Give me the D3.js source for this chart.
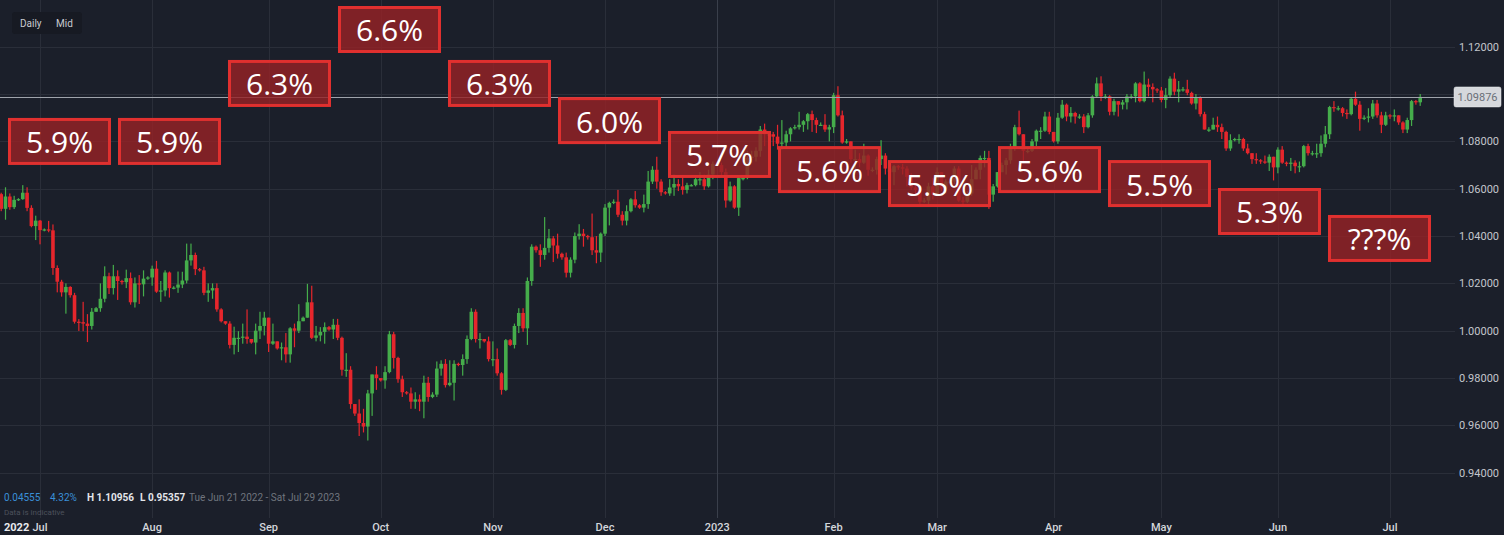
<!DOCTYPE html>
<html><head><meta charset="utf-8">
<script src="https://cdn.jsdelivr.net/npm/d3@7"></script>
<style>html,body{margin:0;padding:0;background:#1b1f2a;overflow:hidden}svg{display:block}</style>
</head><body><svg id="c" width="1504" height="535"></svg>
<script>
// ---- DATA (EUR/USD daily, Sun–Fri sessions from Tue Jun 21 2022) ----
const firstOpen = 1.0577;
const close = [
 1.0515,1.0567,1.0522,1.0553,
 1.0556,1.0583,1.0519,1.0442,1.0465,1.0425,
 1.0428,1.0424,1.0265,1.0207,1.0162,1.0185,
 1.0150,1.0038,1.0036,1.0030,1.0020,1.0080,
 1.0095,1.0135,1.0230,1.0180,1.0230,1.0210,
 1.0205,1.0222,1.0120,1.0200,1.0196,1.0220,
 1.0225,1.0262,1.0165,1.0170,1.0246,1.0180,
 1.0182,1.0195,1.0212,1.0297,1.0320,1.0260,
 1.0255,1.0160,1.0170,1.0180,1.0090,1.0040,
 1.0030,0.9940,0.9970,0.9970,0.9975,0.9965,
 0.9950,1.0000,1.0020,1.0055,0.9945,0.9955,
 0.9925,0.9930,0.9900,1.0010,1.0000,1.0040,
 1.0055,1.0120,0.9970,0.9980,0.9995,1.0015,
 1.0005,1.0025,0.9970,0.9835,0.9835,0.9690,
 0.9650,0.9610,0.9595,0.9735,0.9815,0.9800,
 0.9790,0.9825,0.9985,0.9885,0.9795,0.9740,
 0.9735,0.9700,0.9710,0.9700,0.9780,0.9720,
 0.9730,0.9840,0.9860,0.9770,0.9780,0.9860,
 0.9855,0.9880,0.9965,1.0080,0.9965,0.9965,
 0.9955,0.9880,0.9880,0.9820,0.9750,0.9960,
 0.9940,1.0020,1.0075,1.0010,1.0210,1.0355,
 1.0340,1.0320,1.0350,1.0390,1.0360,1.0325,
 1.0310,1.0245,1.0300,1.0400,1.0410,1.0400,
 1.0395,1.0340,1.0330,1.0410,1.0520,1.0540,
 1.0545,1.0490,1.0465,1.0505,1.0555,1.0530,
 1.0520,1.0535,1.0630,1.0680,1.0630,1.0585,
 1.0580,1.0605,1.0620,1.0610,1.0595,1.0615,
 1.0615,1.0640,1.0640,1.0610,1.0660,1.0705,
 1.0700,1.0670,1.0550,1.0610,1.0520,1.0645,
 1.0645,1.0730,1.0735,1.0760,1.0850,1.0830,
 1.0830,1.0820,1.0790,1.0795,1.0830,1.0855,
 1.0860,1.0870,1.0885,1.0915,1.0890,1.0870,
 1.0870,1.0850,1.0860,1.0995,1.0910,1.0795,
 1.0800,1.0725,1.0725,1.0710,1.0740,1.0680,
 1.0680,1.0725,1.0740,1.0685,1.0670,1.0695,
 1.0690,1.0685,1.0650,1.0605,1.0595,1.0545,
 1.0550,1.0610,1.0575,1.0670,1.0600,1.0630,
 1.0630,1.0685,1.0550,1.0545,1.0580,1.0640,
 1.0680,1.0730,1.0730,1.0575,1.0610,1.0670,
 1.0700,1.0720,1.0770,1.0860,1.0830,1.0760,
 1.0760,1.0800,1.0845,1.0845,1.0905,1.0840,
 1.0800,1.0900,1.0955,1.0905,1.0920,1.0905,
 1.0905,1.0860,1.0910,1.0990,1.1045,1.0990,
 1.0990,1.0925,1.0970,1.0955,1.0965,1.0990,
 1.0990,1.1045,1.0970,1.1040,1.1030,1.1020,
 1.1015,1.0975,1.0995,1.1065,1.1010,1.1020,
 1.1020,1.1005,1.0960,1.0985,1.0915,1.0850,
 1.0850,1.0870,1.0860,1.0840,1.0770,1.0805,
 1.0810,1.0810,1.0770,1.0750,1.0725,1.0720,
 1.0715,1.0710,1.0735,1.0690,1.0765,1.0710,
 1.0705,1.0710,1.0695,1.0695,1.0780,1.0750,
 1.0750,1.0750,1.0790,1.0830,1.0945,1.0940,
 1.0940,1.0920,1.0915,1.0980,1.0955,1.0895,
 1.0900,1.0905,1.0960,1.0910,1.0870,1.0910,
 1.0905,1.0910,1.0880,1.0850,1.0890,1.0970,
 1.0965,1.0988
];
const high = [
 1.0583,1.0606,1.0580,1.0570,
 1.0560,1.0615,1.0606,1.0530,1.0486,1.0468,
 1.0432,1.0464,1.0449,1.0276,1.0215,1.0200,
 1.0188,1.0160,1.0049,1.0122,1.0070,1.0096,
 1.0100,1.0200,1.0272,1.0245,1.0278,1.0255,
 1.0215,1.0258,1.0246,1.0225,1.0235,1.0255,
 1.0230,1.0275,1.0295,1.0210,1.0255,1.0250,
 1.0188,1.0250,1.0249,1.0368,1.0368,1.0330,
 1.0265,1.0270,1.0200,1.0200,1.0200,1.0095,
 1.0040,1.0040,1.0017,0.9998,1.0030,1.0090,
 0.9965,1.0030,1.0080,1.0080,1.0055,1.0030,
 0.9955,0.9950,0.9990,1.0015,1.0030,1.0112,
 1.0060,1.0198,1.0190,1.0020,1.0015,1.0035,
 1.0020,1.0050,1.0050,0.9975,0.9905,0.9850,
 0.9690,0.9710,0.9670,0.9750,0.9815,0.9850,
 0.9800,0.9850,0.9999,0.9995,0.9890,0.9810,
 0.9745,0.9760,0.9740,0.9730,0.9810,0.9805,
 0.9740,0.9870,0.9875,0.9880,0.9875,0.9875,
 0.9865,0.9900,0.9980,1.0095,1.0090,0.9990,
 0.9965,0.9975,0.9955,0.9925,0.9825,0.9965,
 0.9965,1.0030,1.0095,1.0095,1.0225,1.0365,
 1.0360,1.0365,1.0480,1.0430,1.0400,1.0410,
 1.0330,1.0330,1.0310,1.0415,1.0450,1.0430,
 1.0405,1.0495,1.0400,1.0415,1.0535,1.0545,
 1.0555,1.0595,1.0505,1.0530,1.0560,1.0590,
 1.0535,1.0575,1.0675,1.0695,1.0735,1.0640,
 1.0590,1.0640,1.0660,1.0640,1.0650,1.0625,
 1.0620,1.0645,1.0670,1.0660,1.0680,1.0715,
 1.0710,1.0710,1.0685,1.0630,1.0615,1.0655,
 1.0650,1.0760,1.0760,1.0775,1.0865,1.0875,
 1.0840,1.0840,1.0870,1.0890,1.0845,1.0860,
 1.0870,1.0925,1.0890,1.0920,1.0930,1.0900,
 1.0880,1.0915,1.0870,1.1005,1.1033,1.0930,
 1.0810,1.0800,1.0765,1.0750,1.0790,1.0745,
 1.0690,1.0735,1.0805,1.0750,1.0715,1.0700,
 1.0700,1.0705,1.0695,1.0665,1.0625,1.0600,
 1.0560,1.0625,1.0645,1.0690,1.0670,1.0640,
 1.0640,1.0695,1.0695,1.0565,1.0590,1.0700,
 1.0690,1.0740,1.0760,1.0760,1.0620,1.0670,
 1.0710,1.0730,1.0790,1.0870,1.0930,1.0830,
 1.0770,1.0810,1.0850,1.0860,1.0925,1.0925,
 1.0840,1.0920,1.0975,1.0960,1.0945,1.0925,
 1.0915,1.0915,1.0920,1.0995,1.1070,1.1075,
 1.1000,1.0995,1.0980,1.0970,1.0975,1.1000,
 1.1000,1.1050,1.1050,1.1095,1.1065,1.1045,
 1.1025,1.1030,1.1025,1.1075,1.1090,1.1055,
 1.1030,1.1060,1.1010,1.1000,1.0990,1.0925,
 1.0860,1.0900,1.0905,1.0875,1.0845,1.0830,
 1.0815,1.0830,1.0815,1.0790,1.0750,1.0750,
 1.0725,1.0740,1.0745,1.0735,1.0775,1.0780,
 1.0715,1.0730,1.0720,1.0715,1.0785,1.0790,
 1.0760,1.0790,1.0825,1.0865,1.0950,1.0970,
 1.0950,1.0945,1.0935,1.0985,1.1010,1.0970,
 1.0910,1.0940,1.0975,1.0975,1.0925,1.0925,
 1.0915,1.0935,1.0905,1.0885,1.0900,1.0975,
 1.0975,1.1000
];
const low = [
 1.0505,1.0469,1.0511,1.0514,
 1.0548,1.0553,1.0505,1.0437,1.0383,1.0365,
 1.0420,1.0416,1.0236,1.0162,1.0144,1.0072,
 1.0140,1.0030,0.9999,0.9998,0.9952,1.0005,
 1.0080,1.0080,1.0120,1.0155,1.0153,1.0130,
 1.0195,1.0180,1.0110,1.0098,1.0113,1.0145,
 1.0215,1.0190,1.0160,1.0122,1.0145,1.0140,
 1.0175,1.0160,1.0180,1.0200,1.0275,1.0235,
 1.0250,1.0150,1.0122,1.0135,1.0080,1.0035,
 1.0025,0.9925,0.9900,0.9910,0.9945,0.9945,
 0.9945,0.9900,0.9965,0.9980,0.9910,0.9940,
 0.9920,0.9875,0.9865,0.9865,0.9930,0.9990,
 1.0040,1.0060,0.9965,0.9955,0.9955,0.9945,
 1.0000,0.9965,0.9960,0.9810,0.9805,0.9670,
 0.9640,0.9555,0.9570,0.9536,0.9640,0.9750,
 0.9785,0.9755,0.9820,0.9840,0.9780,0.9720,
 0.9730,0.9670,0.9670,0.9660,0.9630,0.9700,
 0.9715,0.9720,0.9810,0.9760,0.9765,0.9705,
 0.9850,0.9810,0.9860,0.9960,0.9950,0.9925,
 0.9950,0.9870,0.9850,0.9810,0.9730,0.9745,
 0.9935,0.9925,0.9990,0.9995,0.9940,1.0190,
 1.0330,1.0270,1.0300,1.0330,1.0290,1.0305,
 1.0300,1.0225,1.0225,1.0285,1.0385,1.0355,
 1.0385,1.0320,1.0285,1.0290,1.0400,1.0445,
 1.0535,1.0480,1.0445,1.0445,1.0500,1.0520,
 1.0515,1.0500,1.0515,1.0620,1.0600,1.0570,
 1.0575,1.0570,1.0570,1.0590,1.0575,1.0580,
 1.0610,1.0610,1.0615,1.0595,1.0605,1.0640,
 1.0695,1.0650,1.0520,1.0545,1.0515,1.0485,
 1.0635,1.0640,1.0710,1.0715,1.0735,1.0780,
 1.0820,1.0780,1.0765,1.0765,1.0770,1.0800,
 1.0850,1.0850,1.0840,1.0850,1.0840,1.0835,
 1.0865,1.0840,1.0800,1.0835,1.0905,1.0790,
 1.0790,1.0710,1.0670,1.0690,1.0705,1.0655,
 1.0670,1.0660,1.0700,1.0660,1.0655,1.0615,
 1.0680,1.0660,1.0610,1.0595,1.0575,1.0535,
 1.0540,1.0535,1.0555,1.0575,1.0590,1.0580,
 1.0620,1.0620,1.0545,1.0525,1.0540,1.0570,
 1.0640,1.0640,1.0690,1.0515,1.0545,1.0605,
 1.0670,1.0660,1.0705,1.0760,1.0825,1.0715,
 1.0750,1.0755,1.0780,1.0810,1.0840,1.0830,
 1.0795,1.0790,1.0895,1.0885,1.0880,1.0875,
 1.0895,1.0835,1.0855,1.0900,1.0985,1.0970,
 1.0980,1.0910,1.0910,1.0905,1.0935,1.0935,
 1.0980,1.0965,1.0965,1.0965,1.0990,1.0965,
 1.1005,1.0965,1.0940,1.0985,1.0995,1.0965,
 1.1010,1.0995,1.0955,1.0935,1.0905,1.0850,
 1.0840,1.0850,1.0840,1.0810,1.0760,1.0760,
 1.0800,1.0790,1.0760,1.0745,1.0705,1.0705,
 1.0705,1.0705,1.0675,1.0635,1.0665,1.0705,
 1.0695,1.0675,1.0665,1.0670,1.0690,1.0740,
 1.0740,1.0730,1.0735,1.0775,1.0810,1.0925,
 1.0930,1.0905,1.0895,1.0910,1.0950,1.0845,
 1.0890,1.0880,1.0895,1.0900,1.0835,1.0865,
 1.0895,1.0885,1.0870,1.0835,1.0835,1.0865,
 1.0955,1.0950
];
const priceTicks = [0.94,0.96,0.98,1.00,1.02,1.04,1.06,1.08,1.10,1.12];
const monthLabels = ["Jul","Aug","Sep","Oct","Nov","Dec","2023","Feb","Mar","Apr","May","Jun","Jul"];
const lastPrice = 1.09876;
const boxLabels = ["5.9%","5.9%","6.3%","6.6%","6.3%","6.0%","5.7%","5.6%","5.5%","5.6%","5.5%","5.3%","???%"];
const boxLevels = [1.0899,1.0899,1.1144,1.1372,1.1144,1.0987,1.0844,1.0780,1.0721,1.0780,1.0721,1.0603,1.0489];
const statsBlue = ["0.04555","4.32%"];
const statsHL = ["H 1.10956","L 0.95357"];
const rangeText = "Tue Jun 21 2022 - Sat Jul 29 2023";

// ---- calendar of Sun–Fri sessions ----
const dates = [];
for (let d = new Date(2022,5,21); dates.length < close.length; d = new Date(d.getFullYear(), d.getMonth(), d.getDate()+1)) {
  if (d.getDay() !== 6) dates.push(d);
}

const W = 1504, H = 535;
const svg = d3.select("#c");
const bg = "#1b1f2a", grid = "#2a2e39";
svg.append("rect").attr("width",W).attr("height",H).attr("fill",bg);

const plotRight = 1455;
const x = d3.scaleLinear().domain([0, 337]).range([1.2, 1454.7]);
const y = d3.scaleLinear().domain([0.94, 1.12]).range([472.7, 46.7]);

// horizontal grid
svg.append("g").selectAll("line").data(priceTicks).join("line")
  .attr("x1",0).attr("x2",plotRight)
  .attr("y1",d=>Math.round(y(d))+0.5).attr("y2",d=>Math.round(y(d))+0.5)
  .attr("stroke",grid).attr("stroke-width",1);

// month starts
const monthStarts = [];
dates.forEach((d,i)=>{ if(i>0 && d.getMonth()!==dates[i-1].getMonth()) monthStarts.push(i); });
svg.append("g").selectAll("line").data(monthStarts).join("line")
  .attr("x1",d=>Math.round(x(d))+0.5).attr("x2",d=>Math.round(x(d))+0.5)
  .attr("y1",0).attr("y2",518)
  .attr("stroke",(d,i)=>monthLabels[i]==="2023" ? "#3a3f4b" : grid).attr("stroke-width",1);

// candles
const green = "#45ad4b", red = "#e6262c";
const cd = close.map((c,i)=>{
  const o = i===0 ? firstOpen : close[i-1];
  return {i, o, c, h: Math.max(high[i],o,c), l: Math.min(low[i],o,c)};
});
const cg = svg.append("g");
cg.selectAll("rect.w").data(cd).join("rect").attr("class","w")
  .attr("x",d=>x(d.i)-0.6).attr("width",1.2)
  .attr("y",d=>y(d.h)).attr("height",d=>Math.max(1,y(d.l)-y(d.h)))
  .attr("fill",d=>d.c>=d.o?green:red);
cg.selectAll("rect.b").data(cd).join("rect").attr("class","b")
  .attr("x",d=>x(d.i)-1.8).attr("width",3.6)
  .attr("y",d=>y(Math.max(d.o,d.c))).attr("height",d=>Math.max(1.2,Math.abs(y(d.o)-y(d.c))))
  .attr("fill",d=>d.c>=d.o?green:red);

// last price line
svg.append("line").attr("x1",0).attr("x2",1454)
  .attr("y1",Math.round(y(lastPrice))+0.5).attr("y2",Math.round(y(lastPrice))+0.5)
  .attr("stroke","#9fa3ab").attr("stroke-width",1);

// y-axis labels
svg.append("g").selectAll("text").data(priceTicks).join("text")
  .attr("x",1459).attr("y",d=>y(d)).attr("dy","0.35em")
  .attr("fill","#c3c6cc").attr("font-family","Roboto, sans-serif").attr("font-size",11)
  .text(d=>d3.format(".5f")(d));
const ly = y(lastPrice);
svg.append("rect").attr("x",1454).attr("y",ly-10).attr("width",47).attr("height",20).attr("rx",2)
  .attr("fill","#d6d8dc").attr("stroke","#eceef0").attr("stroke-width",0.5);
svg.append("text").attr("x",1477.5).attr("y",ly).attr("dy","0.35em").attr("text-anchor","middle")
  .attr("fill","#6a6f78").attr("font-family","Roboto, sans-serif").attr("font-size",11).text(d3.format(".5f")(lastPrice));

// annotation boxes
const bx = d3.scaleBand().domain(d3.range(boxLabels.length)).range([8,1431]).paddingInner(7/110).paddingOuter(0);
const ag = svg.append("g");
const boxes = ag.selectAll("g").data(boxLabels).join("g")
  .attr("transform",(d,i)=>`translate(${bx(i)},${y(boxLevels[i])})`);
boxes.append("rect").attr("x",1.5).attr("y",1.5).attr("width",bx.bandwidth()-3).attr("height",44)
  .attr("fill","rgba(150,34,38,0.82)").attr("stroke","#e0302f").attr("stroke-width",3);
boxes.append("text").attr("x",bx.bandwidth()/2).attr("y",35.5).attr("text-anchor","middle")
  .attr("fill","#ffffff").attr("font-family","'Open Sans', sans-serif").attr("font-size",30)
  .text(d=>d);

// top-left controls
svg.append("rect").attr("x",12).attr("y",12).attr("width",70).attr("height",22).attr("rx",3).attr("fill","#171a23");
svg.append("text").attr("x",20).attr("y",27).attr("fill","#c8cbd1").attr("font-family","Roboto, sans-serif").attr("font-size",10).text("Daily");
svg.append("text").attr("x",56).attr("y",27).attr("fill","#c8cbd1").attr("font-family","Roboto, sans-serif").attr("font-size",10).text("Mid");

// bottom stats
const f10 = "Roboto, sans-serif";
svg.append("text").attr("x",4).attr("y",501).attr("fill","#3a8fd8").attr("font-family",f10).attr("font-size",10).text(statsBlue[0]);
svg.append("text").attr("x",50).attr("y",501).attr("fill","#3a8fd8").attr("font-family",f10).attr("font-size",10).text(statsBlue[1]);
svg.append("text").attr("x",87).attr("y",501).attr("fill","#e4e6ea").attr("font-family",f10).attr("font-size",10).attr("font-weight",700).text(statsHL[0]);
svg.append("text").attr("x",140).attr("y",501).attr("fill","#e4e6ea").attr("font-family",f10).attr("font-size",10).attr("font-weight",700).text(statsHL[1]);
svg.append("text").attr("x",189).attr("y",501).attr("fill","#70757e").attr("font-family",f10).attr("font-size",10).text(rangeText);
svg.append("text").attr("x",4).attr("y",515).attr("fill","#4c515b").attr("font-family",f10).attr("font-size",8).text("Data is indicative");

// x-axis labels
svg.append("text").attr("x",4).attr("y",531).attr("fill","#e8eaee").attr("font-family",f10).attr("font-size",11).attr("font-weight",700).text("2022");
svg.append("g").selectAll("text").data(monthStarts).join("text")
  .attr("x",d=>x(d)).attr("y",531).attr("text-anchor","middle")
  .attr("fill","#d3d6db").attr("font-family",f10).attr("font-size",11).attr("font-weight",500)
  .text((d,i)=>monthLabels[i]);
</script></body></html>
